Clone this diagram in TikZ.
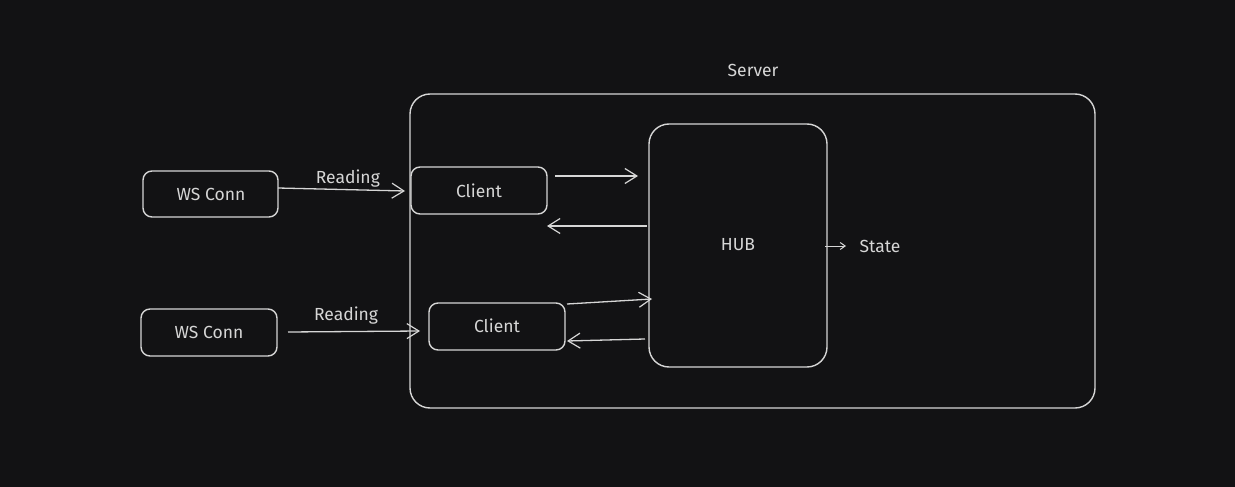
\documentclass[tikz,border=0pt]{standalone}
\usepackage{fontspec}
\setmainfont{Fira Sans}
\usetikzlibrary{arrows.meta}
\definecolor{bg}{HTML}{121214}
\definecolor{ink}{HTML}{D6D6D6}
\tikzset{
  box/.style={draw=ink, line width=1.4pt, rounded corners=9pt},
  lbl/.style={text=ink, font=\fontsize{17.5}{20}\selectfont},
  conn/.style={draw=ink, line width=1.3pt, -{Straight Barb[length=12pt,width=15pt,line width=1.2pt]}},
}
\begin{document}
\begin{tikzpicture}[x=1pt,y=-1pt]
\fill[bg] (0,0) rectangle (1235,487);
\useasboundingbox (0,0) rectangle (1235,487);
% server
\draw[box, rounded corners=20pt] (410,94) rectangle (1095,408);
\node[lbl] (srvlbl) at (753,70) {Server};
% hub
\draw[box, rounded corners=20pt] (649,124) rectangle (827,367);
\node[lbl] (hub) at (738,245) {HUB};
\coordinate (hubr) at (825,246);
\node[lbl] (state) at (880,246) {State};
% ws conns
\draw[box] (143,171) rectangle (278,217);
\node[lbl] (ws1) at (211,194) {WS Conn};
\draw[box] (141,309) rectangle (277,356);
\node[lbl] (ws2) at (209,332) {WS Conn};
% clients
\draw[box] (411,167) rectangle (547,214);
\node[lbl] (c1) at (479,191) {Client};
\draw[box] (429,303) rectangle (565,350);
\node[lbl] (c2) at (497,326) {Client};
% connector points
\coordinate (ws1r) at (278,188);
\coordinate (c1l) at (405,191);
\coordinate (ws2r) at (288,332);
\coordinate (c2l) at (420,331);
\coordinate (c1a) at (555,176);
\coordinate (h1a) at (638,176);
\coordinate (h1b) at (647,226);
\coordinate (c1b) at (547,226);
\coordinate (c2a) at (567,304);
\coordinate (h2a) at (652,299);
\coordinate (h2b) at (645,339);
\coordinate (c2b) at (567,341);
\coordinate (statel) at (846,246);
% connectors
\draw[conn] (ws1r) -- node[lbl, above=-2pt, pos=0.55] {Reading} (c1l);
\draw[conn] (ws2r) -- node[lbl, above=3pt, pos=0.44] {Reading} (c2l);
\draw[conn] (c1a) -- (h1a);
\draw[conn] (h1b) -- (c1b);
\draw[conn] (c2a) -- (h2a);
\draw[conn] (h2b) -- (c2b);
\draw[draw=ink, line width=1pt, -{Straight Barb[length=5pt,width=7pt]}] (hubr) -- (statel);
\end{tikzpicture}
\end{document}
